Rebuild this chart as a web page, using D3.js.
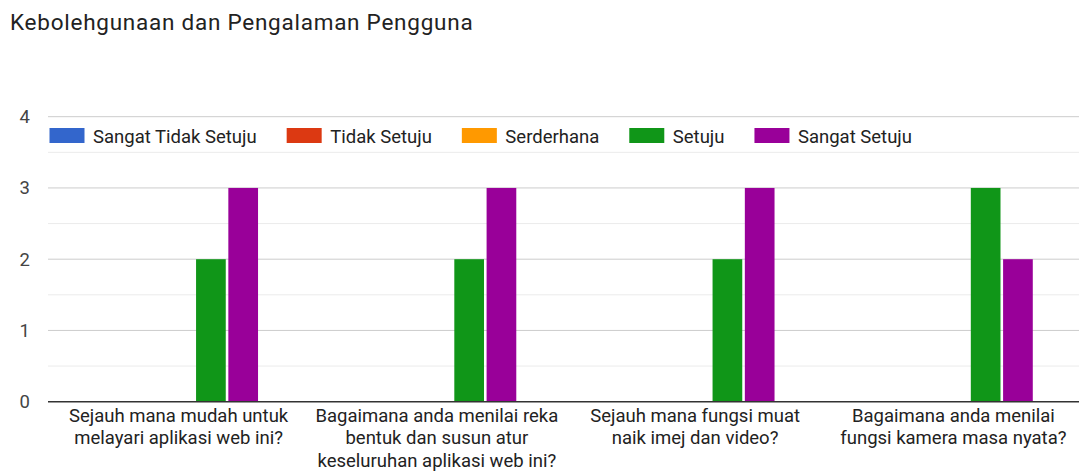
<!DOCTYPE html>
<html>
<head>
<meta charset="utf-8">
<script src="https://cdn.jsdelivr.net/npm/d3@7"></script>
<style>
  body { margin: 0; background: #fff; }
  svg { display: block; font-family: Roboto, "Noto Sans", sans-serif; }
</style>
</head>
<body>
<div id="chart"></div>
<script>
var title = 'Kebolehgunaan dan Pengalaman Pengguna'

var categories = [
    'Sejauh mana mudah untuk melayari aplikasi web ini?',
    'Bagaimana anda menilai reka bentuk dan susun atur keseluruhan aplikasi web ini?',
    'Sejauh mana fungsi muat naik imej dan video?',
    'Bagaimana anda menilai fungsi kamera masa nyata?'
]
// wrapped lines as they appear under each group
var categoryLines = [
    ['Sejauh mana mudah untuk', 'melayari aplikasi web ini?'],
    ['Bagaimana anda menilai reka', 'bentuk dan susun atur', 'keseluruhan aplikasi web ini?'],
    ['Sejauh mana fungsi muat', 'naik imej dan video?'],
    ['Bagaimana anda menilai', 'fungsi kamera masa nyata?']
]

var seriesNames = ['Sangat Tidak Setuju', 'Tidak Setuju', 'Serderhana', 'Setuju', 'Sangat Setuju']
var seriesColors = ['#3366cc', '#dc3912', '#ff9900', '#109618', '#990099']

var sangatTidakSetuju = [0, 0, 0, 0]
var tidakSetuju = [0, 0, 0, 0]
var serderhana = [0, 0, 0, 0]
var setuju = [2, 2, 2, 3]
var sangatSetuju = [3, 3, 3, 2]
var seriesValues = [sangatTidakSetuju, tidakSetuju, serderhana, setuju, sangatSetuju]

var yTicks = [0, 1, 2, 3, 4]
var yMinorTicks = [0.5, 1.5, 2.5, 3.5]

var width = 1079, height = 472
var plotLeft = 48, plotRight = 1079
var fs = 18.5

var svg = d3.select('#chart').append('svg')
    .attr('width', width)
    .attr('height', height)

svg.append('text')
    .attr('x', 10)
    .attr('y', 29.5)
    .attr('font-size', 22.5)
    .attr('letter-spacing', 0.75)
    .attr('fill', '#222')
    .text(title)

var y = d3.scaleLinear().domain([0, 4]).range([401.7, 116.7])

var x0 = d3.scaleBand()
    .domain(categories)
    .range([49.5, 1082.5])

var x1 = d3.scaleBand()
    .domain(seriesNames)
    .range([0, x0.bandwidth()])
    .paddingInner(0.08)
    .paddingOuter(1.54)

// gridlines
svg.append('g').selectAll('line.minor')
    .data(yMinorTicks)
    .enter().append('line')
    .attr('x1', plotLeft).attr('x2', plotRight)
    .attr('y1', d => y(d)).attr('y2', d => y(d))
    .attr('stroke', '#ebebeb')
    .attr('stroke-width', 1)

svg.append('g').selectAll('line.major')
    .data(yTicks.filter(d => d > 0))
    .enter().append('line')
    .attr('x1', plotLeft).attr('x2', plotRight)
    .attr('y1', d => y(d)).attr('y2', d => y(d))
    .attr('stroke', '#cccccc')
    .attr('stroke-width', 1)

// y axis labels
var yAxis = d3.axisLeft(y).tickValues(yTicks).tickSize(0).tickPadding(0).tickFormat(d3.format('d'))
var gy = svg.append('g')
    .attr('transform', 'translate(30,0)')
    .call(yAxis)
gy.select('.domain').remove()
gy.selectAll('text')
    .attr('font-family', 'Roboto, "Noto Sans", sans-serif')
    .attr('font-size', fs)
    .attr('fill', '#444')

// bars
var groups = svg.append('g').selectAll('g')
    .data(categories)
    .enter().append('g')
    .attr('transform', d => 'translate(' + x0(d) + ',0)')

groups.selectAll('rect')
    .data((c, ci) => seriesNames.map((s, si) => ({ s: s, si: si, v: seriesValues[si][ci] })))
    .enter().append('rect')
    .filter(d => d.v > 0)
    .attr('x', d => x1(d.s))
    .attr('width', x1.bandwidth())
    .attr('y', d => y(d.v))
    .attr('height', d => y(0) - y(d.v))
    .attr('fill', d => seriesColors[d.si])

// baseline
svg.append('line')
    .attr('x1', plotLeft).attr('x2', plotRight)
    .attr('y1', y(0)).attr('y2', y(0))
    .attr('stroke', '#333')
    .attr('stroke-width', 1.5)

// category labels
var labels = svg.append('g').selectAll('text')
    .data(categories)
    .enter().append('text')
    .attr('text-anchor', 'middle')
    .attr('font-size', fs)
    .attr('fill', '#222')
    .attr('x', d => x0(d) + x0.bandwidth() / 2)

labels.selectAll('tspan')
    .data((d, i) => categoryLines[i])
    .enter().append('tspan')
    .attr('x', function() { return this.parentNode.getAttribute('x') })
    .attr('y', (d, i) => 422 + i * 22.3)
    .text(d => d)

// legend
var lx = 49.5
seriesNames.forEach((name, i) => {
    svg.append('rect')
        .attr('x', lx).attr('y', 128)
        .attr('width', 35).attr('height', 15)
        .attr('fill', seriesColors[i])
    var t = svg.append('text')
        .attr('x', lx + 43.5).attr('y', 142.5)
        .attr('font-size', fs)
        .attr('fill', '#222')
        .text(name)
    lx = lx + 43.5 + t.node().getComputedTextLength() + 30
})
</script>
</body>
</html>
